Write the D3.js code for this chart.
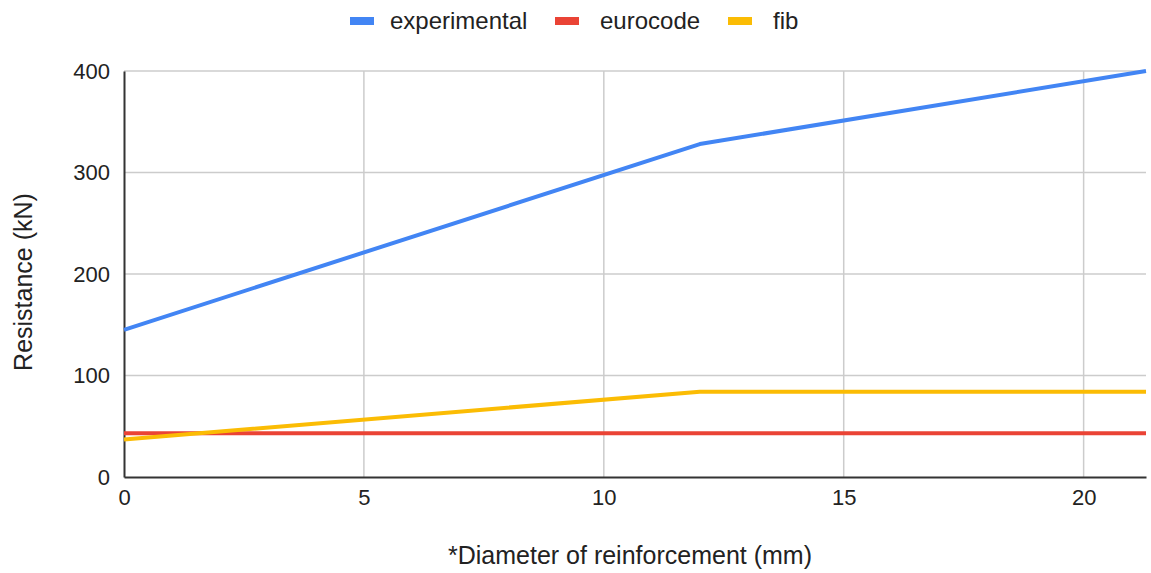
<!DOCTYPE html>
<html><head><meta charset="utf-8">
<script src="https://cdn.jsdelivr.net/npm/d3@7"></script>
<style>body{margin:0;background:#fff;font-family:"Liberation Sans",Arial,sans-serif;}</style>
</head><body><svg id="c" width="1151" height="573"></svg>
<script>
const seriesNames = ["experimental","eurocode","fib"];
const seriesColors = ["#4285F4","#EA4335","#FBBC04"];
const experimentalX = [0,12,21.3];
const experimentalY = [145,328,400];
const eurocodeX = [0,21.3];
const eurocodeY = [43,43];
const fibX = [0,12,21.3];
const fibY = [37,84,84];
const xTicks = [0,5,10,15,20];
const yTicks = [0,100,200,300,400];

const svg = d3.select("#c");
const m = {l:124, r:1151-1146, t:71, b:573-477};
const W = 1151, H = 573;
const x = d3.scaleLinear().domain([0,21.3]).range([m.l, W-m.r]);
const y = d3.scaleLinear().domain([0,400]).range([H-m.b, m.t]);

// grid
svg.append("g").selectAll("line").data(yTicks.filter(d=>d>0)).join("line")
  .attr("x1",x(0)).attr("x2",x(21.3)).attr("y1",d=>y(d)).attr("y2",d=>y(d))
  .attr("stroke","#cccccc").attr("stroke-width",1.5);
svg.append("g").selectAll("line").data(xTicks.filter(d=>d>0)).join("line")
  .attr("x1",d=>x(d)).attr("x2",d=>x(d)).attr("y1",y(0)).attr("y2",y(400))
  .attr("stroke","#cccccc").attr("stroke-width",1.5);

// axes
const xa = svg.append("g").attr("transform",`translate(0,${y(0)})`)
  .call(d3.axisBottom(x).tickValues(xTicks).tickSize(0).tickPadding(12).tickFormat(d3.format("d")));
xa.select(".domain").attr("stroke","#333").attr("stroke-width",2);
const ya = svg.append("g").attr("transform",`translate(${x(0)},0)`)
  .call(d3.axisLeft(y).tickValues(yTicks).tickSize(0).tickPadding(14).tickFormat(d3.format("d")));
ya.select(".domain").attr("stroke","#333").attr("stroke-width",2);
svg.selectAll(".tick text").attr("font-size",22).attr("fill","#222").attr("font-family","Liberation Sans, Arial, sans-serif");

// lines
const data = [
  experimentalX.map((d,i)=>[d,experimentalY[i]]),
  eurocodeX.map((d,i)=>[d,eurocodeY[i]]),
  fibX.map((d,i)=>[d,fibY[i]])
];
const line = d3.line().x(d=>x(d[0])).y(d=>y(d[1]));
[1,2,0].forEach(i=>{
  svg.append("path").attr("d",line(data[i])).attr("fill","none")
    .attr("stroke",seriesColors[i]).attr("stroke-width",4).attr("stroke-linejoin","round");
});

// titles
svg.append("text").attr("x",630).attr("y",564).attr("text-anchor","middle")
  .attr("font-size",25).attr("fill","#222").text("*Diameter of reinforcement (mm)");
svg.append("text").attr("transform",`translate(32,282) rotate(-90)`).attr("text-anchor","middle")
  .attr("font-size",25).attr("fill","#222").text("Resistance (kN)");

// legend
const legX = [350,555,728];
const legTX = [390,600,773];
const lg = svg.append("g");
seriesNames.forEach((n,i)=>{
  lg.append("rect").attr("x",legX[i]).attr("y",17).attr("width",24).attr("height",8).attr("fill",seriesColors[i]);
  lg.append("text").attr("x",legTX[i]).attr("y",29).attr("font-size",24).attr("fill","#222").text(n);
});
</script></body></html>
